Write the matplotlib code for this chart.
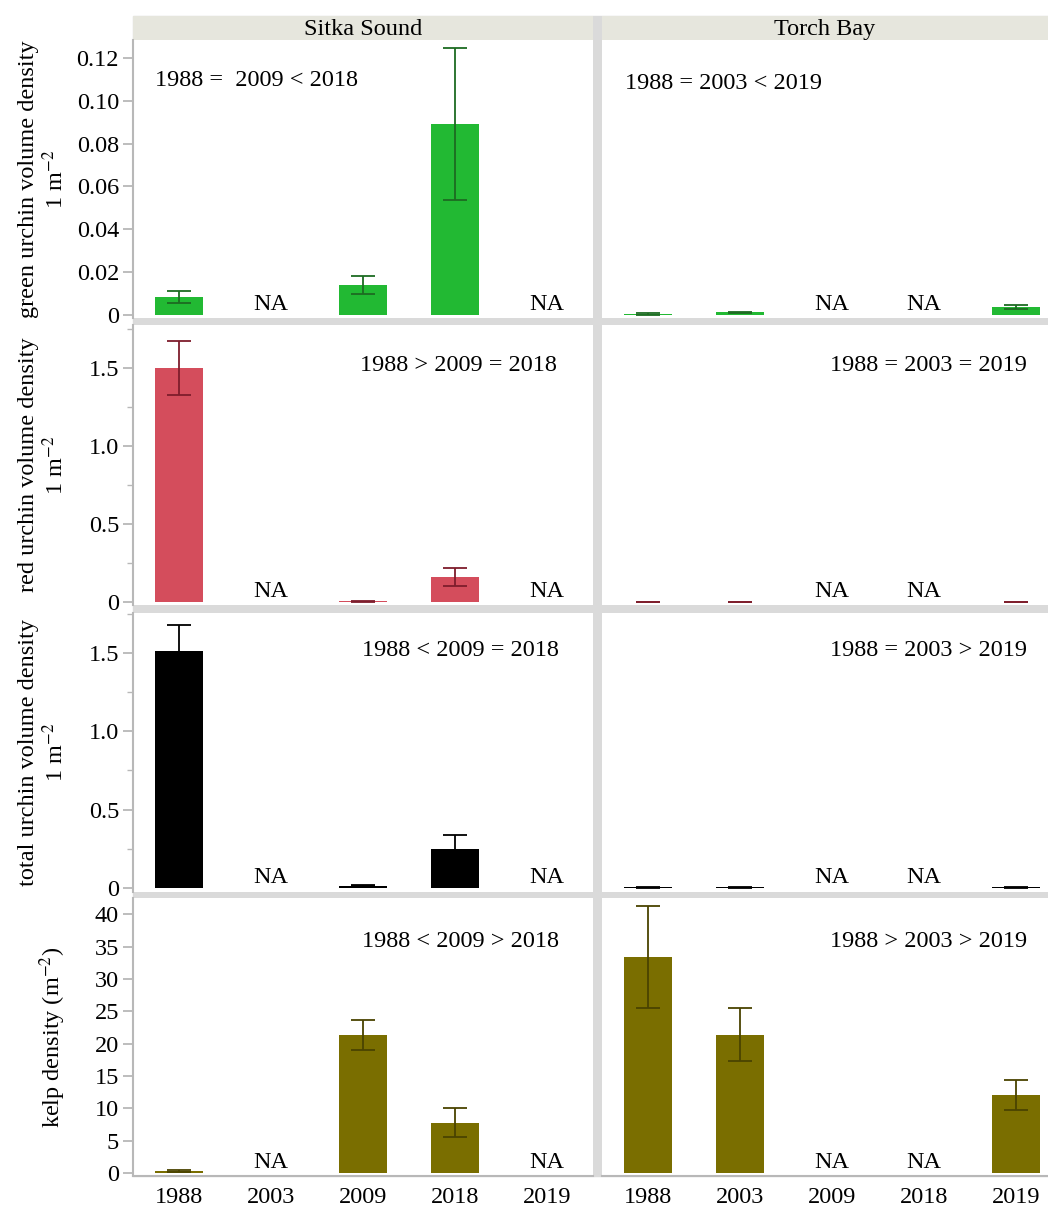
import numpy as np
import matplotlib
matplotlib.use("Agg")
import matplotlib.pyplot as plt
from matplotlib.patches import Rectangle
from matplotlib.ticker import MultipleLocator

plt.rcParams['font.family'] = ['Liberation Serif', 'DejaVu Serif']
plt.rcParams['mathtext.fontset'] = 'stix'

nan = np.nan
years = ['1988', '2003', '2009', '2018', '2019']
sites = ['Sitka Sound', 'Torch Bay']

# means and standard errors, NaN where the year was not surveyed
green_sitka = [0.0085, nan, 0.014, 0.089, nan]
green_sitka_se = [0.0027, nan, 0.004, 0.0355, nan]
green_torch = [0.0005, 0.0012, nan, nan, 0.0037]
green_torch_se = [0.0003, 0.0004, nan, nan, 0.001]

red_sitka = [1.50, nan, 0.004, 0.16, nan]
red_sitka_se = [0.175, nan, 0.002, 0.058, nan]
red_torch = [0.002, 0.002, nan, nan, 0.002]
red_torch_se = [0.001, 0.001, nan, nan, 0.001]

total_sitka = [1.51, nan, 0.014, 0.25, nan]
total_sitka_se = [0.17, nan, 0.003, 0.09, nan]
total_torch = [0.004, 0.004, nan, nan, 0.004]
total_torch_se = [0.002, 0.002, nan, nan, 0.002]

kelp_sitka = [0.3, nan, 21.3, 7.8, nan]
kelp_sitka_se = [0.2, nan, 2.35, 2.25, nan]
kelp_torch = [33.4, 21.4, nan, nan, 12.1]
kelp_torch_se = [7.85, 4.05, nan, nan, 2.35]

comparisons = [
    ['1988 =  2009 < 2018', '1988 = 2003 < 2019'],
    ['1988 > 2009 = 2018', '1988 = 2003 = 2019'],
    ['1988 < 2009 = 2018', '1988 = 2003 > 2019'],
    ['1988 < 2009 > 2018', '1988 > 2003 > 2019'],
]
ylabels = [
    'green urchin volume density\n1 m$^{-2}$',
    'red urchin volume density\n1 m$^{-2}$',
    'total urchin volume density\n1 m$^{-2}$',
    'kelp density (m$^{-2}$)',
]
ylabel_x = [43, 43, 43, 53]

rows = [
    (green_sitka, green_sitka_se, green_torch, green_torch_se),
    (red_sitka, red_sitka_se, red_torch, red_torch_se),
    (total_sitka, total_sitka_se, total_torch, total_torch_se),
    (kelp_sitka, kelp_sitka_se, kelp_torch, kelp_torch_se),
]
bar_colors = ['#22b933', '#d44d5c', '#000000', '#7a6e00']
err_colors = ['#1d6b22', '#7e1d2c', '#000000', '#4a4300']
ylims = [(-0.0014, 0.1284), (-0.019, 1.776), (-0.026, 1.755), (-0.46, 42.5)]
yticks = [np.arange(0, 0.121, 0.02), [0, 0.5, 1.0, 1.5], [0, 0.5, 1.0, 1.5],
          np.arange(0, 41, 5)]
ytick_fmt = [lambda v: '0' if v == 0 else f'{v:.2f}',
             lambda v: '0' if v == 0 else f'{v:.1f}',
             lambda v: '0' if v == 0 else f'{v:.1f}',
             lambda v: f'{v:.0f}']
comp_pos = [[(0.048, 0.856, 'left'), (0.05, 0.845, 'left')],
            [(0.707, 0.854, 'center'), (0.709, 0.854, 'center')],
            [(0.711, 0.867, 'center'), (0.709, 0.867, 'center')],
            [(0.711, 0.845, 'center'), (0.709, 0.845, 'center')]]

W, H = 1048, 1209
fig = plt.figure(figsize=(W / 100, H / 100), dpi=100)

def box(x0, y0, x1, y1):
    # pixel box (top-left origin) -> figure fraction rect
    return [x0 / W, 1 - y1 / H, (x1 - x0) / W, (y1 - y0) / H]

grey = '#dadada'
fig.patches.append(Rectangle((133 / W, 1 - 1176 / H), (W - 133) / W, (1176 - 16) / H,
                             transform=fig.transFigure, color=grey, zorder=-5))

col_x = [(133, 593), (602, 1062)]
row_y = [(40, 318), (325, 605), (613, 892), (898, 1176)]
fs = 17.5

# strip headers
for c, (x0, x1) in enumerate(col_x):
    sax = fig.add_axes(box(x0, 16, x1, 40))
    sax.set_facecolor('#e6e6dd')
    sax.set_xticks([])
    sax.set_yticks([])
    for s in sax.spines.values():
        s.set_visible(False)
    xc = (x0 + min(x1, W)) / 2 if c == 1 else (x0 + x1) / 2
    sax.text((xc - x0) / (x1 - x0), 0.45, sites[c], transform=sax.transAxes,
             ha='center', va='center', fontsize=fs)

x = np.arange(len(years))
for r, (y0, y1) in enumerate(row_y):
    data = rows[r]
    for c, (x0, x1) in enumerate(col_x):
        ax = fig.add_axes(box(x0, y0, x1, y1))
        vals = np.array(data[2 * c], dtype=float)
        errs = np.array(data[2 * c + 1], dtype=float)
        ok = ~np.isnan(vals)
        ax.bar(x[ok], vals[ok], width=0.53, color=bar_colors[r], zorder=2)
        ax.errorbar(x[ok], vals[ok], yerr=errs[ok], fmt='none', ecolor=err_colors[r],
                    elinewidth=1.3, capsize=8.5, capthick=1.3, zorder=3)
        for i in x[~ok]:
            ax.annotate('NA', (i, 0), xytext=(0, 0), textcoords='offset points',
                        ha='center', va='bottom', fontsize=fs)
        tx, ty, ha = comp_pos[r][c]
        ax.text(tx, ty, comparisons[r][c], transform=ax.transAxes, ha=ha,
                va='center', fontsize=fs)

        ax.set_xlim(-0.5, 4.5)
        ax.set_ylim(*ylims[r])
        for s in ['top', 'right']:
            ax.spines[s].set_visible(False)
        ax.spines['left'].set_color('#b8b8b8')
        ax.spines['bottom'].set_color('#b8b8b8')
        ax.spines['left'].set_linewidth(1.5)
        ax.spines['bottom'].set_linewidth(1.5)
        if c == 1:
            ax.spines['left'].set_visible(False)
        if r < 3:
            ax.spines['bottom'].set_visible(False)

        ax.set_xticks(x)
        if r == 3:
            ax.set_xticklabels(years, fontsize=fs)
        else:
            ax.set_xticklabels([])
        ax.tick_params(axis='x', length=0, pad=8)

        if c == 0:
            ax.set_yticks(yticks[r])
            ax.set_yticklabels([ytick_fmt[r](v) for v in yticks[r]], fontsize=fs)
            ax.tick_params(axis='y', length=7, width=1.3, color='#b8b8b8', pad=3)
            if r in (1, 2):
                ax.yaxis.set_minor_locator(MultipleLocator(0.25))
                ax.tick_params(axis='y', which='minor', length=4, width=1,
                               color='#b8b8b8')
        else:
            ax.set_yticks([])

    fig.text(ylabel_x[r] / W, 1 - ((y0 + y1) / 2) / H, ylabels[r], rotation=90,
             ha='center', va='center', multialignment='center', fontsize=fs)

fig.savefig('out.png', dpi=100)
